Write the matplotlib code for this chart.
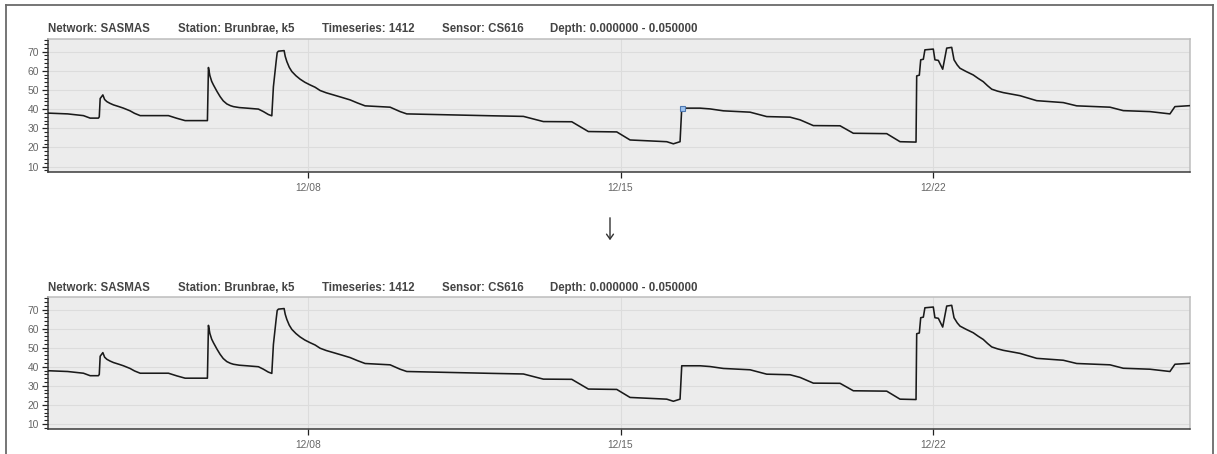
import numpy as np
import matplotlib
matplotlib.use("Agg")
import matplotlib.pyplot as plt
import matplotlib.dates as mdates
from matplotlib.lines import Line2D
from matplotlib.patches import FancyArrowPatch
from matplotlib.ticker import MultipleLocator
from datetime import datetime

# Soil moisture (CS616, 0-5 cm) at Brunbrae k5; time is fractional day of December
obs_day = [2.17, 2.6, 2.955, 3.105, 3.291, 3.31, 3.33, 3.39, 3.43, 3.48,
           3.55, 3.628, 3.75, 3.852, 4.0, 4.1, 4.227, 4.861, 5.05, 5.235,
           5.735, 5.758, 5.79, 5.83, 5.87, 5.95, 6.02, 6.09, 6.17, 6.25,
           6.318, 6.45, 6.619, 6.879, 6.991, 7.1, 7.179, 7.215, 7.276, 7.3,
           7.327, 7.455, 7.48, 7.516, 7.57, 7.628, 7.72, 7.814, 7.92, 8.038,
           8.15, 8.262, 8.4, 8.561, 8.75, 8.935, 9.1, 9.271, 9.832, 10.056,
           10.206, 12.148, 12.821, 13.269, 13.906, 14.278, 14.915, 15.213, 16.036, 16.184,
           16.334, 16.372, 16.783, 17.007, 17.305, 17.904, 18.278, 18.8, 19.025, 19.323,
           19.922, 20.22, 20.969, 21.267, 21.626, 21.641, 21.7, 21.731, 21.79, 21.825,
           22.013, 22.05, 22.126, 22.224, 22.314, 22.426, 22.478, 22.55, 22.612, 22.75,
           22.91, 23.02, 23.134, 23.23, 23.323, 23.45, 23.583, 23.957, 24.332, 24.928,
           25.229, 25.975, 26.274, 26.872, 27.32, 27.432, 27.768]
moisture = [37.9, 37.5, 36.6, 35.3, 35.3, 36.0, 45.5, 47.4, 45.0, 43.9,
            43.0, 42.2, 41.3, 40.5, 39.1, 37.8, 36.6, 36.6, 35.2, 34.0,
            34.0, 61.7, 57.5, 54.5, 52.6, 49.2, 46.5, 44.3, 42.7, 41.8,
            41.3, 40.8, 40.5, 40.0, 38.7, 37.2, 36.5, 51.7, 64.8, 69.5,
            70.2, 70.5, 67.5, 64.8, 61.8, 59.6, 57.4, 55.6, 54.0, 52.6,
            51.4, 49.7, 48.5, 47.4, 46.1, 44.8, 43.2, 41.7, 41.0, 38.7,
            37.5, 36.5, 36.2, 33.5, 33.4, 28.3, 28.1, 23.9, 23.0, 21.9,
            23.0, 40.5, 40.5, 40.1, 39.1, 38.4, 36.1, 35.8, 34.4, 31.4,
            31.3, 27.4, 27.2, 23.0, 22.8, 57.3, 57.7, 65.7, 66.0, 70.9,
            71.3, 65.7, 65.4, 60.8, 71.8, 72.2, 65.7, 63.0, 61.3, 59.6,
            57.8, 56.0, 54.3, 52.2, 50.4, 49.4, 48.6, 47.0, 44.4, 43.4,
            41.7, 41.0, 39.2, 38.7, 37.5, 41.3, 41.8]

# Header fields shown above each panel
header_fields = ["Network: SASMAS", "Station: Brunbrae, k5", "Timeseries: 1412",
                 "Sensor: CS616", "Depth: 0.000000 - 0.050000"]
header_x_px = [48, 178, 322, 442, 550]

selected_day = 16.372
selected_value = 40.5

W, H = 1217, 454
DPI = 100
fig = plt.figure(figsize=(W / DPI, H / DPI), dpi=DPI)
fig.patch.set_facecolor("white")

base = mdates.date2num(datetime(2005, 12, 1))
t = base + np.asarray(obs_day) - 1.0
x_lo = base + 2.16 - 1.0
x_hi = base + 27.77 - 1.0
week_ticks = [base + d - 1.0 for d in (8, 15, 22)]


def fx(px):
    return px / W


def fy(py):
    return 1.0 - py / H


def draw_panel(top_px, bottom_px, title_px, show_selection):
    ax = fig.add_axes([fx(48), fy(bottom_px), fx(1190) - fx(48), fy(top_px) - fy(bottom_px)])
    ax.set_facecolor("#ececec")
    ax.plot(t, moisture, color="#1a1a1a", lw=1.15, solid_joinstyle="round", zorder=3)
    if show_selection:
        ax.plot([base + selected_day - 1.0], [selected_value], marker="s", ms=3.6,
                mfc="#9cc2ee", mec="#4d77b0", mew=0.8, zorder=4)
    ax.set_xlim(x_lo, x_hi)
    ax.set_ylim(7.2, 76.4)
    ax.set_xticks(week_ticks)
    ax.xaxis.set_major_formatter(mdates.DateFormatter("%m/%d"))
    ax.yaxis.set_major_locator(MultipleLocator(10))
    ax.yaxis.set_minor_locator(MultipleLocator(2))
    ax.grid(True, which="major", color="#dcdcdc", lw=0.8, zorder=0)
    ax.set_axisbelow(True)
    for side in ("top", "right"):
        ax.spines[side].set_color("#bdbdbd")
        ax.spines[side].set_linewidth(1.1)
    for side in ("left", "bottom"):
        ax.spines[side].set_color("#3a3a3a")
        ax.spines[side].set_linewidth(1.1)
    ax.tick_params(axis="both", which="major", direction="out", length=4.5, width=0.9,
                   color="#222222", labelsize=7.4, labelcolor="#666666", pad=2)
    ax.tick_params(axis="y", which="minor", direction="out", length=2.8, width=0.8,
                   color="#222222")
    ax.tick_params(axis="x", which="major", pad=3.5)
    for lab in ax.get_xticklabels() + ax.get_yticklabels():
        lab.set_fontfamily("Liberation Sans")
    for txt, px in zip(header_fields, header_x_px):
        fig.text(fx(px), fy(title_px), txt, fontsize=8.3, fontweight="bold",
                 color="#444444", family="Liberation Sans", ha="left", va="center")
    return ax


draw_panel(39.3, 172, 29, True)
draw_panel(297.3, 429.3, 288, False)

# Outer frame around both panels (open at the bottom)
frame_kw = dict(color="#6a6a6a", lw=1.3, transform=fig.transFigure)
fig.add_artist(Line2D([fx(6), fx(6)], [fy(5), 0.0], **frame_kw))
fig.add_artist(Line2D([fx(6), fx(1213)], [fy(5), fy(5)], **frame_kw))
fig.add_artist(Line2D([fx(1213), fx(1213)], [fy(5), 0.0], **frame_kw))

# Down arrow linking the two panels
fig.add_artist(FancyArrowPatch((fx(610), fy(215)), (fx(610), fy(243)),
                               transform=fig.transFigure,
                               arrowstyle="->,head_length=3.5,head_width=2.5",
                               color="#333333", lw=1.0))

fig.savefig("out.png", dpi=DPI)
